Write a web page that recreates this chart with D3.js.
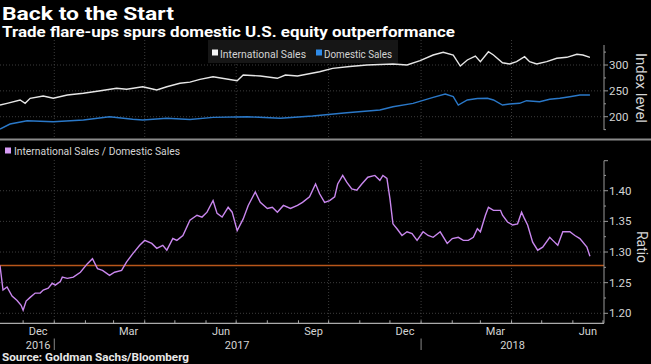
<!DOCTYPE html>
<html><head><meta charset="utf-8">
<script src="https://cdn.jsdelivr.net/npm/d3@7"></script>
<style>body{margin:0;background:#000;} svg{display:block;}</style>
</head><body>
<svg id="c" width="651" height="364"></svg>
<script>
// ---------------- DATA ----------------
const intlDates = ["2016-11-08","2016-11-15","2016-11-28","2016-12-03","2016-12-08","2016-12-21","2016-12-31","2017-01-14","2017-01-30","2017-02-16","2017-03-04","2017-03-14","2017-03-30","2017-04-13","2017-04-23","2017-05-06","2017-05-16","2017-05-26","2017-06-08","2017-07-02","2017-07-08","2017-07-25","2017-08-11","2017-08-19","2017-08-31","2017-09-22","2017-10-05","2017-10-22","2017-11-08","2017-11-21","2017-12-04","2017-12-18","2017-12-31","2018-01-13","2018-01-23","2018-02-02","2018-02-09","2018-02-16","2018-02-24","2018-03-01","2018-03-09","2018-03-14","2018-03-23","2018-03-30","2018-04-06","2018-04-14","2018-04-19","2018-04-26","2018-05-06","2018-05-16","2018-05-26","2018-06-05","2018-06-11","2018-06-18"];
const intlValues = [222.6,225.9,232.3,225.9,235.6,240,235.6,242,245.3,250.3,254.9,253,258,251.6,258,264.6,267,272.3,277.4,269.6,280.7,278.7,274.3,280.7,278.7,287,293.6,297,300,301,302,300,308.3,319.3,324.6,319.3,298,309.7,317.4,306.4,325.7,319.3,304.4,302,306.4,316,306.4,302,306.4,313,314.9,320.7,319.3,314.9];

const domDates = ["2016-11-08","2016-11-18","2016-12-05","2016-12-31","2017-01-30","2017-02-25","2017-03-20","2017-03-30","2017-04-23","2017-05-16","2017-06-08","2017-07-12","2017-08-14","2017-09-15","2017-10-19","2017-11-21","2017-12-04","2017-12-24","2018-01-13","2018-01-25","2018-02-02","2018-02-07","2018-02-16","2018-02-26","2018-03-08","2018-03-14","2018-03-23","2018-03-30","2018-04-09","2018-04-16","2018-04-29","2018-05-09","2018-05-19","2018-05-29","2018-06-08","2018-06-18"];
const domValues = [176,185.9,192.3,190.3,193.6,200,195,193.6,196.9,194.6,198.8,200,196.9,201.4,207.7,213,219.3,225.9,237.5,243.9,238.7,222.6,232.3,235.2,235.6,232.3,222.6,224.6,225.9,231,229,233.7,235.6,238.7,242,242];

const ratioDates = ["2016-11-08","2016-11-11","2016-11-15","2016-11-20","2016-11-25","2016-11-29","2016-12-01","2016-12-04","2016-12-08","2016-12-13",
"2016-12-18","2016-12-21","2016-12-26","2016-12-30","2017-01-02","2017-01-07","2017-01-09","2017-01-14","2017-01-20","2017-01-27",
"2017-02-03","2017-02-08","2017-02-13","2017-02-18","2017-02-25","2017-03-02","2017-03-09","2017-03-14","2017-03-20","2017-03-27",
"2017-04-01","2017-04-08","2017-04-13","2017-04-19","2017-04-23","2017-04-29","2017-05-03","2017-05-09","2017-05-16","2017-05-23",
"2017-05-28","2017-06-02","2017-06-08","2017-06-12","2017-06-17","2017-06-23","2017-06-27","2017-07-02","2017-07-08","2017-07-13",
"2017-07-20","2017-07-25","2017-08-01","2017-08-06","2017-08-11","2017-08-17","2017-08-24","2017-08-31","2017-09-05","2017-09-12",
"2017-09-18","2017-09-22","2017-09-27","2017-10-02","2017-10-07","2017-10-10","2017-10-15","2017-10-19","2017-10-24","2017-10-29",
"2017-11-03","2017-11-09","2017-11-16","2017-11-21","2017-11-24","2017-11-28","2017-12-01","2017-12-04","2017-12-08","2017-12-13",
"2017-12-18","2017-12-23","2017-12-28","2018-01-03","2018-01-08","2018-01-13","2018-01-20","2018-01-27","2018-02-01","2018-02-07",
"2018-02-12","2018-02-17","2018-02-22","2018-02-26","2018-03-01","2018-03-06","2018-03-09","2018-03-14","2018-03-21","2018-03-23",
"2018-03-28","2018-04-02","2018-04-07","2018-04-11","2018-04-14","2018-04-17","2018-04-22","2018-04-27","2018-05-02","2018-05-09",
"2018-05-12","2018-05-17","2018-05-22","2018-05-29","2018-06-03","2018-06-08","2018-06-15","2018-06-18"];
const ratioValues = [1.278,1.238,1.243,1.228,1.221,1.213,1.205,1.220,1.226,1.233,
1.233,1.238,1.241,1.249,1.246,1.252,1.259,1.257,1.259,1.267,
1.281,1.289,1.273,1.270,1.262,1.267,1.270,1.284,1.297,1.311,
1.319,1.314,1.306,1.311,1.303,1.322,1.319,1.327,1.352,1.360,
1.357,1.365,1.384,1.363,1.357,1.373,1.365,1.335,1.354,1.376,
1.398,1.381,1.371,1.373,1.365,1.376,1.371,1.376,1.381,1.390,
1.411,1.395,1.381,1.384,1.390,1.411,1.425,1.414,1.403,1.401,
1.411,1.422,1.425,1.417,1.425,1.420,1.387,1.346,1.338,1.327,
1.333,1.330,1.319,1.333,1.327,1.324,1.333,1.314,1.322,1.324,
1.319,1.319,1.324,1.338,1.333,1.360,1.373,1.368,1.368,1.360,
1.349,1.344,1.346,1.365,1.354,1.344,1.316,1.303,1.308,1.324,
1.319,1.311,1.333,1.333,1.327,1.322,1.308,1.293];

const indexTicks = [200, 250, 300];
const ratioTicks = [1.20, 1.25, 1.30, 1.35, 1.40];
const monthLabels = ["Dec","Mar","Jun","Sep","Dec","Mar","Jun"];
const monthLabelDates = ["2016-12-16","2017-03-16","2017-06-16","2017-09-16","2017-12-16","2018-03-16","2018-06-16"];
const yearLabels = ["2016","2017","2018"];
const yearLabelDates = ["2016-12-16","2017-07-02","2018-04-02"];
const yearBreakDates = ["2017-01-01","2018-01-01"];
const gridDates = ["2017-01-01","2017-04-01","2017-07-01","2017-10-01","2018-01-01","2018-04-01"];

// ---------------- CHART ----------------
const parse = d3.utcParse("%Y-%m-%d");
const svg = d3.select("#c");
const FONT = "Roboto, 'Open Sans', sans-serif";
const TXT = "#d4d4d4";
const GRID = "#3c3c3c";

svg.append("rect").attr("width",651).attr("height",364).attr("fill","#000");

const x = d3.scaleUtc().domain([parse("2016-11-08"), parse("2018-07-02")]).range([0, 604]);
const yTop = d3.scaleLinear().domain([174.3, 338.7]).range([130, 45]);
const yBot = d3.scaleLinear().domain([1.1837, 1.449]).range([323.3, 160.7]);

// Titles
svg.append("text").attr("x",2).attr("y",19.5).text("Back to the Start")
  .attr("font-family",FONT).attr("font-weight","bold").attr("font-size",18)
  .attr("fill","#fff").attr("textLength",172).attr("lengthAdjust","spacingAndGlyphs");
svg.append("text").attr("x",2).attr("y",37).text("Trade flare-ups spurs domestic U.S. equity outperformance")
  .attr("font-family",FONT).attr("font-weight","bold").attr("font-size",14)
  .attr("fill","#fff").attr("textLength",453).attr("lengthAdjust","spacingAndGlyphs");

// Top panel grid
const gTop = svg.append("g");
gTop.selectAll("line.hg").data(indexTicks).join("line")
  .attr("x1",0).attr("x2",604).attr("y1",d=>yTop(d)).attr("y2",d=>yTop(d))
  .attr("stroke",GRID).attr("stroke-dasharray","1,2");
gTop.selectAll("line.vg").data(gridDates).join("line")
  .attr("x1",d=>x(parse(d))).attr("x2",d=>x(parse(d))).attr("y1",40).attr("y2",138)
  .attr("stroke",GRID).attr("stroke-dasharray","1,2");

// Top legend
const lg = svg.append("g");
lg.append("rect").attr("x",208).attr("y",40).attr("width",190).attr("height",23).attr("fill","#161616");
lg.append("rect").attr("x",212).attr("y",49.5).attr("width",6).attr("height",6).attr("fill","#f2f2f2");
lg.append("text").attr("x",220).attr("y",57.5).text("International Sales")
  .attr("font-family",FONT).attr("font-size",11).attr("fill",TXT)
  .attr("textLength",86).attr("lengthAdjust","spacingAndGlyphs");
lg.append("rect").attr("x",316).attr("y",49.5).attr("width",6).attr("height",6).attr("fill","#2f8be8");
lg.append("text").attr("x",324).attr("y",57.5).text("Domestic Sales")
  .attr("font-family",FONT).attr("font-size",11).attr("fill",TXT)
  .attr("textLength",68).attr("lengthAdjust","spacingAndGlyphs");

// Top lines
const intl = intlDates.map((d,i)=>({date:parse(d), v:intlValues[i]}));
const dom = domDates.map((d,i)=>({date:parse(d), v:domValues[i]}));
const lineTop = d3.line().x(d=>x(d.date)).y(d=>yTop(d.v));
svg.append("path").datum(dom).attr("d",lineTop).attr("fill","none")
  .attr("stroke","#2a78c8").attr("stroke-width",1.4);
svg.append("path").datum(intl).attr("d",lineTop).attr("fill","none")
  .attr("stroke","#e6e6e6").attr("stroke-width",1.4);

// Top right axis
const axTop = svg.append("g").attr("transform","translate(604,0)");
axTop.append("line").attr("x1",0).attr("x2",0).attr("y1",45).attr("y2",130).attr("stroke","#999");
const minorTop = d3.range(175, 339, 25);
axTop.selectAll("line.mt").data(minorTop).join("line")
  .attr("x1",0).attr("x2",d=>indexTicks.includes(d)?4:2).attr("y1",d=>yTop(d)).attr("y2",d=>yTop(d))
  .attr("stroke","#999");
axTop.selectAll("text").data(indexTicks).join("text")
  .attr("x",5).attr("y",d=>yTop(d)+4).text(d=>d)
  .attr("font-family",FONT).attr("font-size",11.5).attr("fill",TXT);
svg.append("text").attr("transform","translate(636,88) rotate(90)")
  .attr("text-anchor","middle").text("Index level")
  .attr("font-family",FONT).attr("font-size",14).attr("fill",TXT)
  .attr("textLength",70).attr("lengthAdjust","spacingAndGlyphs");

// Separator
svg.append("line").attr("x1",0).attr("x2",651).attr("y1",139.5).attr("y2",139.5)
  .attr("stroke","#8a8a8a").attr("stroke-width",2);

// Bottom legend
svg.append("rect").attr("x",5).attr("y",147.5).attr("width",6).attr("height",6).attr("fill","#d79cf5");
svg.append("text").attr("x",14).attr("y",155).text("International Sales / Domestic Sales")
  .attr("font-family",FONT).attr("font-size",11).attr("fill",TXT)
  .attr("textLength",166).attr("lengthAdjust","spacingAndGlyphs");

// Bottom grid
const gBot = svg.append("g");
gBot.selectAll("line.hg").data(ratioTicks).join("line")
  .attr("x1",0).attr("x2",604).attr("y1",d=>yBot(d)).attr("y2",d=>yBot(d))
  .attr("stroke",GRID).attr("stroke-dasharray","1,2");
gBot.selectAll("line.vg").data(gridDates).join("line")
  .attr("x1",d=>x(parse(d))).attr("x2",d=>x(parse(d))).attr("y1",160).attr("y2",323)
  .attr("stroke",GRID).attr("stroke-dasharray","1,2");

// Start reference line
svg.append("line").attr("x1",0).attr("x2",604)
  .attr("y1",yBot(ratioValues[0])).attr("y2",yBot(ratioValues[0]))
  .attr("stroke","#b8561a").attr("stroke-width",1.3);

// Ratio line
const ratio = ratioDates.map((d,i)=>({date:parse(d), v:ratioValues[i]}));
svg.append("path").datum(ratio)
  .attr("d", d3.line().x(d=>x(d.date)).y(d=>yBot(d.v)))
  .attr("fill","none").attr("stroke","#c987ee").attr("stroke-width",1.4);

// Bottom right axis
const axBot = svg.append("g").attr("transform","translate(604,0)");
axBot.append("line").attr("x1",0).attr("x2",0).attr("y1",160.7).attr("y2",323.3).attr("stroke","#999");
const minorBot = d3.range(0, 11).map(i => +(1.20 + i*0.025).toFixed(3)).filter(v=>v<1.449);
axBot.selectAll("line.mt").data(minorBot).join("line")
  .attr("x1",0).attr("x2",(d,i)=>i%2===0?4:2).attr("y1",d=>yBot(d)).attr("y2",d=>yBot(d))
  .attr("stroke","#999");
axBot.append("line").attr("x1",0).attr("x2",4).attr("y1",160.7).attr("y2",160.7).attr("stroke","#999");
axBot.selectAll("text").data(ratioTicks).join("text")
  .attr("x",5).attr("y",d=>yBot(d)+4).text(d=>d.toFixed(2))
  .attr("font-family",FONT).attr("font-size",11.5).attr("fill",TXT);
svg.append("text").attr("transform","translate(637,247) rotate(90)")
  .attr("text-anchor","middle").text("Ratio")
  .attr("font-family",FONT).attr("font-size",14).attr("fill",TXT);

// X axis
const xa = svg.append("g");
xa.append("line").attr("x1",0).attr("x2",604).attr("y1",323.3).attr("y2",323.3).attr("stroke","#aaa").attr("stroke-width",1.2);
const monthStarts = d3.utcMonth.range(parse("2016-12-01"), parse("2018-07-02"));
xa.selectAll("line.mt").data(monthStarts).join("line")
  .attr("x1",d=>x(d)).attr("x2",d=>x(d)).attr("y1",320.3).attr("y2",323.3).attr("stroke","#aaa");
xa.selectAll("text.ml").data(monthLabels).join("text")
  .attr("x",(d,i)=>x(parse(monthLabelDates[i]))).attr("y",335)
  .attr("text-anchor","middle").text(d=>d)
  .attr("font-family",FONT).attr("font-size",11).attr("fill",TXT);
svg.selectAll("text.yl").data(yearLabels).join("text")
  .attr("x",(d,i)=>x(parse(yearLabelDates[i]))).attr("y",348.5)
  .attr("text-anchor","middle").text(d=>d)
  .attr("font-family",FONT).attr("font-size",11).attr("fill",TXT);
svg.selectAll("line.yb").data(yearBreakDates).join("line")
  .attr("x1",d=>x(parse(d))).attr("x2",d=>x(parse(d))).attr("y1",338.5).attr("y2",350)
  .attr("stroke","#888");

// Source
svg.append("text").attr("x",2).attr("y",361).text("Source: Goldman Sachs/Bloomberg")
  .attr("font-family",FONT).attr("font-weight","bold").attr("font-size",10)
  .attr("fill","#e8e8e8").attr("textLength",187).attr("lengthAdjust","spacingAndGlyphs");
</script>
</body></html>
